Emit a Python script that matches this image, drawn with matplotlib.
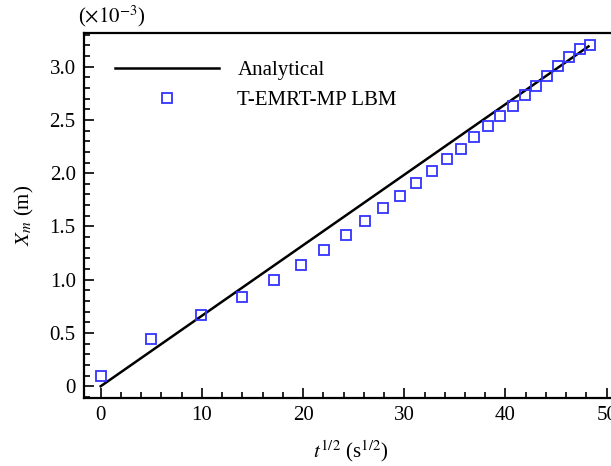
import numpy as np
import matplotlib
matplotlib.use('Agg')
import matplotlib.pyplot as plt
from matplotlib.ticker import MultipleLocator, FuncFormatter

plt.rcParams['font.family'] = ['Liberation Serif', 'DejaVu Serif']
plt.rcParams['mathtext.fontset'] = 'stix'
plt.rcParams['font.size'] = 15

# analytical solution (straight line), X_m in units of 1e-3 m
ana_x = [0.0, 48.2]
ana_y = [0.0, 3.19]

# T-EMRT-MP LBM results
lbm_x = [0.0, 5.0, 9.9, 14.0, 17.1, 19.8, 22.1, 24.2, 26.1, 27.9, 29.6, 31.2, 32.7,
         34.2, 35.6, 36.9, 38.3, 39.5, 40.7, 41.9, 43.0, 44.1, 45.2, 46.3, 47.4, 48.4]
lbm_y = [0.10, 0.44, 0.67, 0.834, 0.993, 1.138, 1.28, 1.42, 1.553, 1.67, 1.79, 1.91, 2.02,
         2.135, 2.23, 2.34, 2.44, 2.54, 2.63, 2.73, 2.82, 2.91, 3.006, 3.087, 3.17, 3.20]

fig = plt.figure(figsize=(6.11, 4.66), dpi=100)
ax = fig.add_axes([0.1375, 0.146, 0.872, 0.783])

ax.plot(ana_x, ana_y, color='black', lw=1.8, label='Analytical')
ax.plot(lbm_x, lbm_y, ls='none', marker='s', ms=7.5, mfc='none', mec='#3333ff',
        mew=1.3, label='T-EMRT-MP LBM')

ax.set_xlim(-1.65, 51)
ax.set_ylim(-0.11, 3.315)
ax.xaxis.set_major_locator(MultipleLocator(10))
ax.xaxis.set_minor_locator(MultipleLocator(2))
ax.yaxis.set_major_locator(MultipleLocator(0.5))
ax.yaxis.set_minor_locator(MultipleLocator(0.1))
ax.yaxis.set_major_formatter(FuncFormatter(lambda v, p: '0' if abs(v) < 1e-9 else '%.1f' % v))
ax.xaxis.set_major_formatter(FuncFormatter(lambda v, p: '%d' % round(v)))

ax.tick_params(which='both', direction='in', top=False, right=False, width=1.2)
ax.tick_params(which='major', length=7, pad=6)
ax.tick_params(which='minor', length=4)
for s in ax.spines.values():
    s.set_linewidth(1.6)

ax.set_xlabel(r'$t^{1/2}$ (s$^{1/2}$)', labelpad=9)
ax.set_ylabel(r'$X_m$ (m)', labelpad=10)
fig.text(0.127, 0.965, r'($\times 10^{-3}$)', ha='left', va='center', fontsize=15)

ax.legend(loc='upper left', frameon=False, handlelength=5.0, handletextpad=0.9,
          bbox_to_anchor=(0.03, 0.965), borderaxespad=0.3, labelspacing=0.5)

fig.savefig('out.png', dpi=100)
